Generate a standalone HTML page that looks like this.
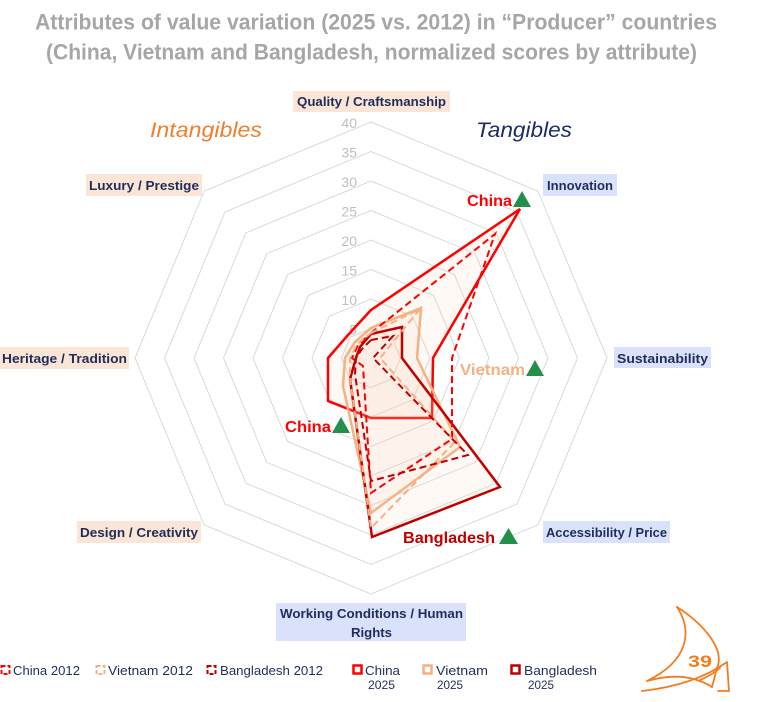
<!DOCTYPE html>
<html><head><meta charset="utf-8"><style>
html,body{margin:0;padding:0;background:#fff;}
svg{display:block;}
text{font-family:"Liberation Sans",sans-serif;}
</style></head><body>
<svg width="757" height="702" viewBox="0 0 757 702" xmlns="http://www.w3.org/2000/svg">
<rect width="757" height="702" fill="#fff"/>
<!-- Title -->
<text x="35" y="29.5" font-size="22" font-weight="bold" fill="#A6A6A6" textLength="682" lengthAdjust="spacingAndGlyphs">Attributes of value variation (2025 vs. 2012) in “Producer” countries</text>
<text x="46" y="59.5" font-size="22" font-weight="bold" fill="#A6A6A6" textLength="651" lengthAdjust="spacingAndGlyphs">(China, Vietnam and Bangladesh, normalized scores by attribute)</text>

<text x="150" y="137" font-size="21" font-style="italic" fill="#F07F2D" textLength="112" lengthAdjust="spacingAndGlyphs">Intangibles</text>
<text x="476" y="137" font-size="21" font-style="italic" fill="#1A2C6B" textLength="96" lengthAdjust="spacingAndGlyphs">Tangibles</text>

<!-- Grid -->
<g fill="none" stroke="#D9D9D9" stroke-width="1">
<polygon points="371,328.5 391.86,337.14 400.5,358 391.86,378.86 371,387.5 350.14,378.86 341.5,358 350.14,337.14"/>
<polygon points="371,299 412.72,316.28 430,358 412.72,399.72 371,417 329.28,399.72 312,358 329.28,316.28"/>
<polygon points="371,269.5 433.58,295.42 459.5,358 433.58,420.58 371,446.5 308.42,420.58 282.5,358 308.42,295.42"/>
<polygon points="371,240 454.44,274.56 489,358 454.44,441.44 371,476 287.56,441.44 253,358 287.56,274.56"/>
<polygon points="371,210.5 475.3,253.7 518.5,358 475.3,462.3 371,505.5 266.7,462.3 223.5,358 266.7,253.7"/>
<polygon points="371,181 496.16,232.84 548,358 496.16,483.16 371,535 245.84,483.16 194,358 245.84,232.84"/>
<polygon points="371,151.5 517.02,211.98 577.5,358 517.02,504.02 371,564.5 224.98,504.02 164.5,358 224.98,211.98"/>
<polygon points="371,122 537.88,191.12 607,358 537.88,524.88 371,594 204.12,524.88 135,358 204.12,191.12"/>
</g>

<!-- Tick labels -->
<g font-size="14" fill="#BFBFBF" text-anchor="end">
<text x="357" y="128">40</text>
<text x="357" y="157.5">35</text>
<text x="357" y="187">30</text>
<text x="357" y="216.5">25</text>
<text x="357" y="246">20</text>
<text x="357" y="275.5">15</text>
<text x="357" y="305">10</text>
<text x="357" y="334.5">5</text>
<text x="357" y="364">0</text>
</g>

<!-- Series 2025 (filled) -->
<g stroke-linejoin="miter" stroke-width="2.5">
<polygon points="371,310 520,209 433,358 432,418 371,418 328,401 328,358 348,335" fill="#F8CBAD" fill-opacity="0.12" stroke="#FF0000"/>
<polygon points="371,328 421,308 417,358 460,447 371,513 343,386 345,358 355,342" fill="#F8CBAD" fill-opacity="0.12" stroke="#F4B183"/>
<polygon points="371,334 402,327 402,358 500,487 372,537 350,379 356,358 360,347" fill="#F8CBAD" fill-opacity="0.12" stroke="#C00000"/>
</g>
<!-- Series 2012 (dashed) -->
<g fill="none" stroke-width="2" stroke-dasharray="7 4">
<polygon points="371,333 495,234 452,358 452,439 371,493 363,366 352,358 358,345" stroke="#FF0000"/>
<polygon points="371,333 420,309 380,358 455,442 371,528 350,379 350,358 357,344" stroke="#F4B183"/>
<polygon points="371,340 393,336 373,358 468,455 371,481 355,374 356,358 362,349" stroke="#C00000"/>
</g>

<!-- Axis labels -->
<g font-size="13" font-weight="bold" fill="#1F2D5A">
<rect x="293" y="91" width="157" height="21" fill="#FBE5D6"/>
<text x="297" y="106" textLength="149" lengthAdjust="spacingAndGlyphs">Quality / Craftsmanship</text>
<rect x="543" y="174" width="74" height="22" fill="#D9E2FA"/>
<text x="547" y="190" textLength="66" lengthAdjust="spacingAndGlyphs">Innovation</text>
<rect x="614" y="347" width="97" height="21" fill="#D9E2FA"/>
<text x="617" y="363" textLength="91" lengthAdjust="spacingAndGlyphs">Sustainability</text>
<rect x="543" y="521" width="127" height="22" fill="#D9E2FA"/>
<text x="546" y="537" textLength="121" lengthAdjust="spacingAndGlyphs">Accessibility / Price</text>
<rect x="276" y="603" width="190" height="38" fill="#D9E2FA"/>
<text x="280" y="618" textLength="183" lengthAdjust="spacingAndGlyphs">Working Conditions / Human</text>
<text x="351" y="637" textLength="41" lengthAdjust="spacingAndGlyphs">Rights</text>
<rect x="77" y="521" width="124" height="22" fill="#FBE5D6"/>
<text x="80" y="537" textLength="118" lengthAdjust="spacingAndGlyphs">Design / Creativity</text>
<rect x="0" y="347" width="129" height="22" fill="#FBE5D6"/>
<text x="2" y="363" textLength="125" lengthAdjust="spacingAndGlyphs">Heritage / Tradition</text>
<rect x="86" y="174" width="116" height="22" fill="#FBE5D6"/>
<text x="89" y="190" textLength="110" lengthAdjust="spacingAndGlyphs">Luxury / Prestige</text>
</g>

<!-- Country labels -->
<g font-size="16" font-weight="bold">
<text x="467" y="206" fill="#FF0000" textLength="45" lengthAdjust="spacingAndGlyphs">China</text>
<polygon points="513,207 531,207 522,191" fill="#22904A"/>
<text x="460" y="375" fill="#F4B183" textLength="65" lengthAdjust="spacingAndGlyphs">Vietnam</text>
<polygon points="526,376 544,376 535,360" fill="#22904A"/>
<text x="285" y="432" fill="#FF0000" textLength="46" lengthAdjust="spacingAndGlyphs">China</text>
<polygon points="332,433 350,433 341,417" fill="#22904A"/>
<text x="403" y="543" fill="#C00000" textLength="92" lengthAdjust="spacingAndGlyphs">Bangladesh</text>
<polygon points="499,544 518,544 508.5,528" fill="#22904A"/>
</g>

<!-- Legend -->
<g font-size="13" fill="#1F2D5A">
<rect x="1.5" y="666" width="8" height="8" fill="none" stroke="#FF0000" stroke-width="2" stroke-dasharray="4 2"/>
<text x="13" y="675" textLength="67" lengthAdjust="spacingAndGlyphs">China 2012</text>
<rect x="96.5" y="666" width="8" height="8" fill="none" stroke="#F4B183" stroke-width="2" stroke-dasharray="4 2"/>
<text x="108" y="675" textLength="85" lengthAdjust="spacingAndGlyphs">Vietnam 2012</text>
<rect x="207.5" y="666" width="8" height="8" fill="none" stroke="#C00000" stroke-width="2" stroke-dasharray="4 2"/>
<text x="220" y="675" textLength="103" lengthAdjust="spacingAndGlyphs">Bangladesh 2012</text>

<rect x="353.5" y="665.5" width="8" height="8" fill="#fff" stroke="#FF0000" stroke-width="2.5"/>
<text x="365" y="675" textLength="35" lengthAdjust="spacingAndGlyphs">China</text>
<text x="368" y="689" font-size="12" textLength="27" lengthAdjust="spacingAndGlyphs">2025</text>
<rect x="423.5" y="665.5" width="8" height="8" fill="#fff" stroke="#F4B183" stroke-width="2.5"/>
<text x="436" y="675" textLength="52" lengthAdjust="spacingAndGlyphs">Vietnam</text>
<text x="437" y="689" font-size="12" textLength="26" lengthAdjust="spacingAndGlyphs">2025</text>
<rect x="511.5" y="665.5" width="8" height="8" fill="#fff" stroke="#C00000" stroke-width="2.5"/>
<text x="524" y="675" textLength="73" lengthAdjust="spacingAndGlyphs">Bangladesh</text>
<text x="528" y="689" font-size="12" textLength="26" lengthAdjust="spacingAndGlyphs">2025</text>
</g>

<!-- Logo -->
<g fill="none" stroke="#F47C20" stroke-width="1.8" stroke-linecap="round" stroke-linejoin="round">
<path d="M677,607 C705,625 725,650 717,668 L712,687"/>
<path d="M677,607 C692,630 690,660 647,681"/>
<path d="M647,681 Q685,670 712,687"/>
<path d="M642,691 Q695,685 727,662 L729,691 L718,691"/>
<path d="M700,680 Q712,675 720,668"/>
</g>
<text x="688" y="667" font-size="17" font-weight="bold" fill="#F47C20" textLength="24" lengthAdjust="spacingAndGlyphs">39</text>
</svg>
</body></html>
